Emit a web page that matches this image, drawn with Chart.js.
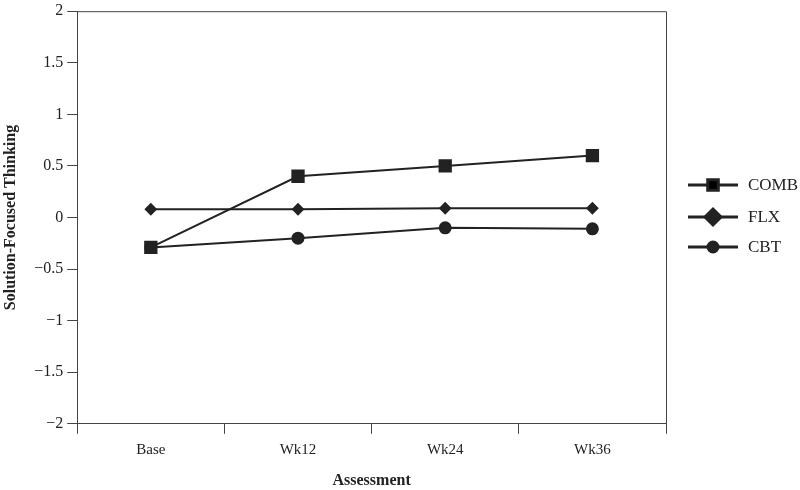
<!DOCTYPE html>
<html>
<head>
<meta charset="utf-8">
<script src="https://cdn.jsdelivr.net/npm/chart.js@4/dist/chart.umd.min.js"></script>
<style>
  html, body { margin: 0; padding: 0; background: #fff; }
  #wrap { width: 800px; height: 490px; }
</style>
</head>
<body>
<div id="wrap"><canvas id="chart" width="800" height="490"></canvas></div>
<script>
// data
const assessments = ["Base", "Wk12", "Wk24", "Wk36"];
const combValues = [-0.29, 0.40, 0.50, 0.60];
const flxValues = [0.08, 0.08, 0.09, 0.09];
const cbtValues = [-0.29, -0.20, -0.10, -0.11];
const seriesNames = ["COMB", "FLX", "CBT"];

const ink = "#222";
const axisInk = "#444";
const serif = "'Liberation Serif', 'Times New Roman', serif";

// legend on the right: line with marker, drawn by hand
const sideLegend = {
  id: 'sideLegend',
  afterDraw(chart) {
    const ctx = chart.ctx;
    const area = chart.chartArea;
    // top and right frame of the plot
    ctx.save();
    ctx.strokeStyle = axisInk;
    ctx.lineWidth = 1;
    ctx.beginPath();
    ctx.moveTo(area.left, area.top + 0.5);
    ctx.lineTo(area.right + 0.5, area.top + 0.5);
    ctx.lineTo(area.right + 0.5, area.bottom);
    ctx.stroke();

    const rows = [185, 217, 247];
    const sizes = [7.5, 8, 5];
    chart.data.datasets.forEach((ds, i) => {
      const y = rows[i];
      ctx.strokeStyle = ink;
      ctx.lineWidth = 3;
      ctx.beginPath();
      ctx.moveTo(688, y);
      ctx.lineTo(738, y);
      ctx.stroke();
      Chart.helpers.drawPoint(ctx, {
        pointStyle: ds.pointStyle, radius: sizes[i], borderWidth: 1
      }, 713, y);
      ctx.fillStyle = ink;
      ctx.font = "17px " + serif;
      ctx.textAlign = 'left';
      ctx.textBaseline = 'middle';
      ctx.fillText(ds.label, 748, y + 1);
    });
    ctx.restore();
  }
};

function makeSet(name, values, style, radius) {
  return {
    label: name,
    data: values,
    borderColor: ink,
    backgroundColor: ink,
    pointBackgroundColor: ink,
    pointBorderColor: ink,
    borderWidth: 2,
    pointStyle: style,
    pointRadius: radius,
    pointHoverRadius: radius,
    tension: 0
  };
}

const ctx = document.getElementById('chart');
new Chart(ctx, {
  type: 'line',
  data: {
    labels: assessments,
    datasets: [
      makeSet(seriesNames[0], combValues, 'rect', 8),
      makeSet(seriesNames[1], flxValues, 'rectRot', 5),
      makeSet(seriesNames[2], cbtValues, 'circle', 5.5)
    ]
  },
  options: {
    responsive: false,
    animation: false,
    layout: { padding: { top: 0, right: 134, left: 1, bottom: 0 } },
    plugins: {
      legend: { display: false },
      tooltip: { enabled: false }
    },
    scales: {
      x: {
        offset: true,
        grid: { offset: true, drawOnChartArea: false, drawTicks: true, tickLength: 10, color: axisInk },
        border: { display: true, color: axisInk, width: 1 },
        ticks: { color: ink, font: { family: serif, size: 15 }, padding: 7 },
        title: {
          display: true, text: 'Assessment', color: ink,
          font: { family: serif, size: 16, weight: 'bold' }, padding: { top: 5, bottom: 0 }
        }
      },
      y: {
        min: -2,
        max: 2,
        grid: { drawOnChartArea: false, drawTicks: true, tickLength: 10, color: axisInk },
        border: { display: true, color: axisInk, width: 1 },
        ticks: {
          stepSize: 0.5,
          color: ink,
          font: { family: serif, size: 16, lineHeight: 0.9 },
          padding: 4,
          callback: (v) => (v < 0 ? '\u2212' + Math.abs(v) : String(v))
        },
        title: {
          display: true, text: 'Solution-Focused Thinking', color: ink,
          font: { family: serif, size: 16, weight: 'bold' }, padding: { top: 0, bottom: 10 }
        }
      }
    }
  },
  plugins: [sideLegend]
});
</script>
</body>
</html>
